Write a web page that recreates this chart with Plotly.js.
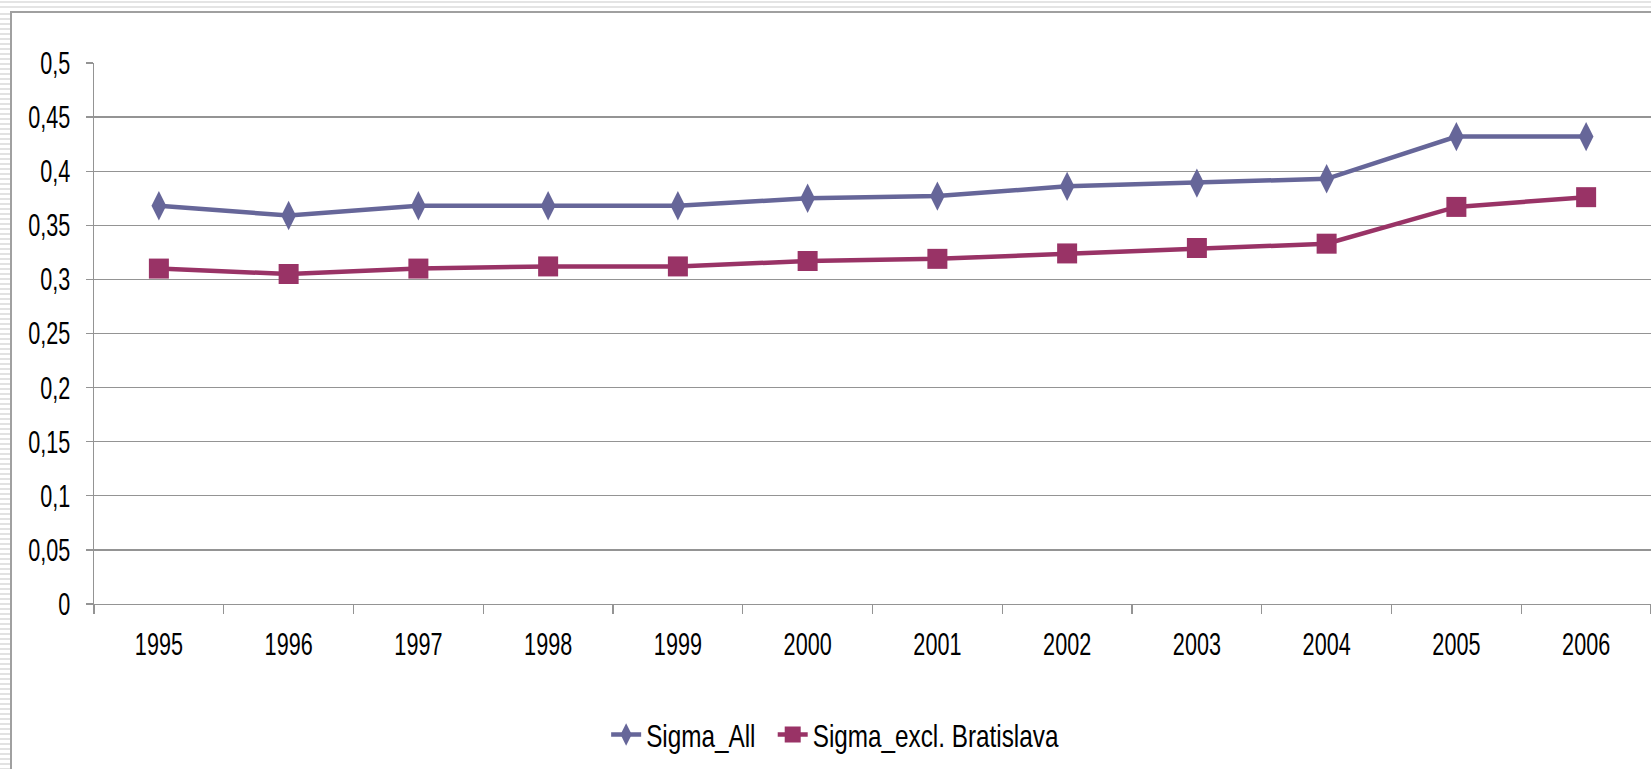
<!DOCTYPE html>
<html>
<head>
<meta charset="utf-8">
<script src="https://cdn.plot.ly/plotly-3.0.1.min.js"></script>
<style>
  html, body { margin: 0; padding: 0; background: #ffffff; overflow: hidden; }
  #wrap { position: relative; width: 1651px; height: 769px; background: #ffffff; }
  #stripeLeft { position: absolute; left: 0; top: 0; width: 10px; height: 769px;
    background: repeating-linear-gradient(to bottom, #ffffff 0px, #ffffff 3px, #e2e2e2 3px, #e2e2e2 5px); }
  #stripeTop { position: absolute; left: 0; top: 0; width: 1651px; height: 10px;
    background: linear-gradient(to bottom, #ffffff 0px, #ffffff 1px, #e4e4e4 1px, #e4e4e4 3px, #ffffff 3px, #ffffff 6px, #e4e4e4 6px, #e4e4e4 8px, #ffffff 8px); }
  #frameLeft { position: absolute; left: 10px; top: 11px; width: 2px; height: 758px; background: #a0a0a0; }
  #frameTop { position: absolute; left: 10px; top: 11px; width: 1641px; height: 2px; background: #a0a0a0; }
  #chart { position: absolute; left: 0; top: 0; width: 1651px; height: 769px; }
</style>
</head>
<body>
<div id="wrap">
  <div id="stripeLeft"></div>
  <div id="stripeTop"></div>
  <div id="frameLeft"></div>
  <div id="frameTop"></div>
  <div id="chart"></div>
</div>
<script>
// ---- data ----
const years = ['1995','1996','1997','1998','1999','2000','2001','2002','2003','2004','2005','2006'];
const sigmaAll = [0.368, 0.359, 0.368, 0.368, 0.368, 0.375, 0.377, 0.386, 0.389, 0.393, 0.432, 0.432];
const sigmaExclBratislava = [0.310, 0.305, 0.310, 0.312, 0.312, 0.317, 0.319, 0.324, 0.329, 0.333, 0.367, 0.376];
const seriesNames = ['Sigma_All', 'Sigma_excl. Bratislava'];
const yTickValues = [0, 0.05, 0.1, 0.15, 0.2, 0.25, 0.3, 0.35, 0.4, 0.45, 0.5];
const yTickLabels = ['0', '0,05', '0,1', '0,15', '0,2', '0,25', '0,3', '0,35', '0,4', '0,45', '0,5'];

const FONT = "'Liberation Sans', Arial, sans-serif";
const GRID = '#949494';

const traces = [
  {
    x: years, y: sigmaAll, name: seriesNames[0], type: 'scatter', mode: 'lines+markers',
    line: { color: '#666699', width: 4.5 },
    marker: { symbol: 'diamond-tall', size: 21, color: '#666699' }
  },
  {
    x: years, y: sigmaExclBratislava, name: seriesNames[1], type: 'scatter', mode: 'lines+markers',
    line: { color: '#993366', width: 4.5 },
    marker: { symbol: 'square', size: 20, color: '#993366' }
  }
];

const layout = {
  width: 1651, height: 769,
  margin: { l: 94, r: 0, t: 63, b: 165 },
  paper_bgcolor: 'rgba(0,0,0,0)',
  plot_bgcolor: 'rgba(0,0,0,0)',
  font: { family: FONT, size: 27, color: '#000000' },
  showlegend: true,
  legend: {
    orientation: 'h', x: 0.485, xanchor: 'center', y: -0.242, yanchor: 'middle',
    font: { family: FONT, size: 27, color: '#000000' },
    bgcolor: 'rgba(0,0,0,0)'
  },
  xaxis: {
    type: 'category', categoryorder: 'array', categoryarray: years,
    range: [-0.5, 11.5], fixedrange: true,
    showgrid: false, zeroline: false,
    showline: true, linecolor: GRID, linewidth: 1.3,
    ticks: 'outside', tickson: 'boundaries', ticklen: 9, tickcolor: GRID, tickwidth: 1.3,
    ticklabelstandoff: 16,
    tickfont: { family: FONT, size: 27, color: '#000000' }
  },
  yaxis: {
    range: [0, 0.5], fixedrange: true,
    tickmode: 'array', tickvals: yTickValues, ticktext: yTickLabels,
    showgrid: true, gridcolor: GRID, gridwidth: 1.3,
    zeroline: false,
    showline: true, linecolor: GRID, linewidth: 1.3,
    ticks: 'outside', ticklen: 7, tickcolor: GRID, tickwidth: 1.3,
    ticklabelstandoff: 10,
    tickfont: { family: FONT, size: 27, color: '#000000' }
  }
};

// The reference uses a tall, narrow rendering of its text; squeeze the real text elements to match.
function squeeze(selector, sx, sy, anchor) {
  document.querySelectorAll('#chart ' + selector).forEach(function (t) {
    const b = t.getBBox();
    const cx = anchor === 'start' ? b.x : (anchor === 'end' ? b.x + b.width : b.x + b.width / 2);
    const cy = b.y + b.height / 2;
    const prev = t.getAttribute('transform') || '';
    t.setAttribute('transform', prev + ' translate(' + cx + ',' + cy + ') scale(' + sx + ',' + sy + ') translate(' + (-cx) + ',' + (-cy) + ')');
  });
}

Plotly.newPlot('chart', traces, layout, { displayModeBar: false, staticPlot: true }).then(function () {
  squeeze('.xtick text', 0.8, 1.17, 'middle');
  squeeze('.ytick text', 0.8, 1.17, 'end');
  squeeze('.legendtext', 0.9, 1.17, 'start');
});
</script>
</body>
</html>
